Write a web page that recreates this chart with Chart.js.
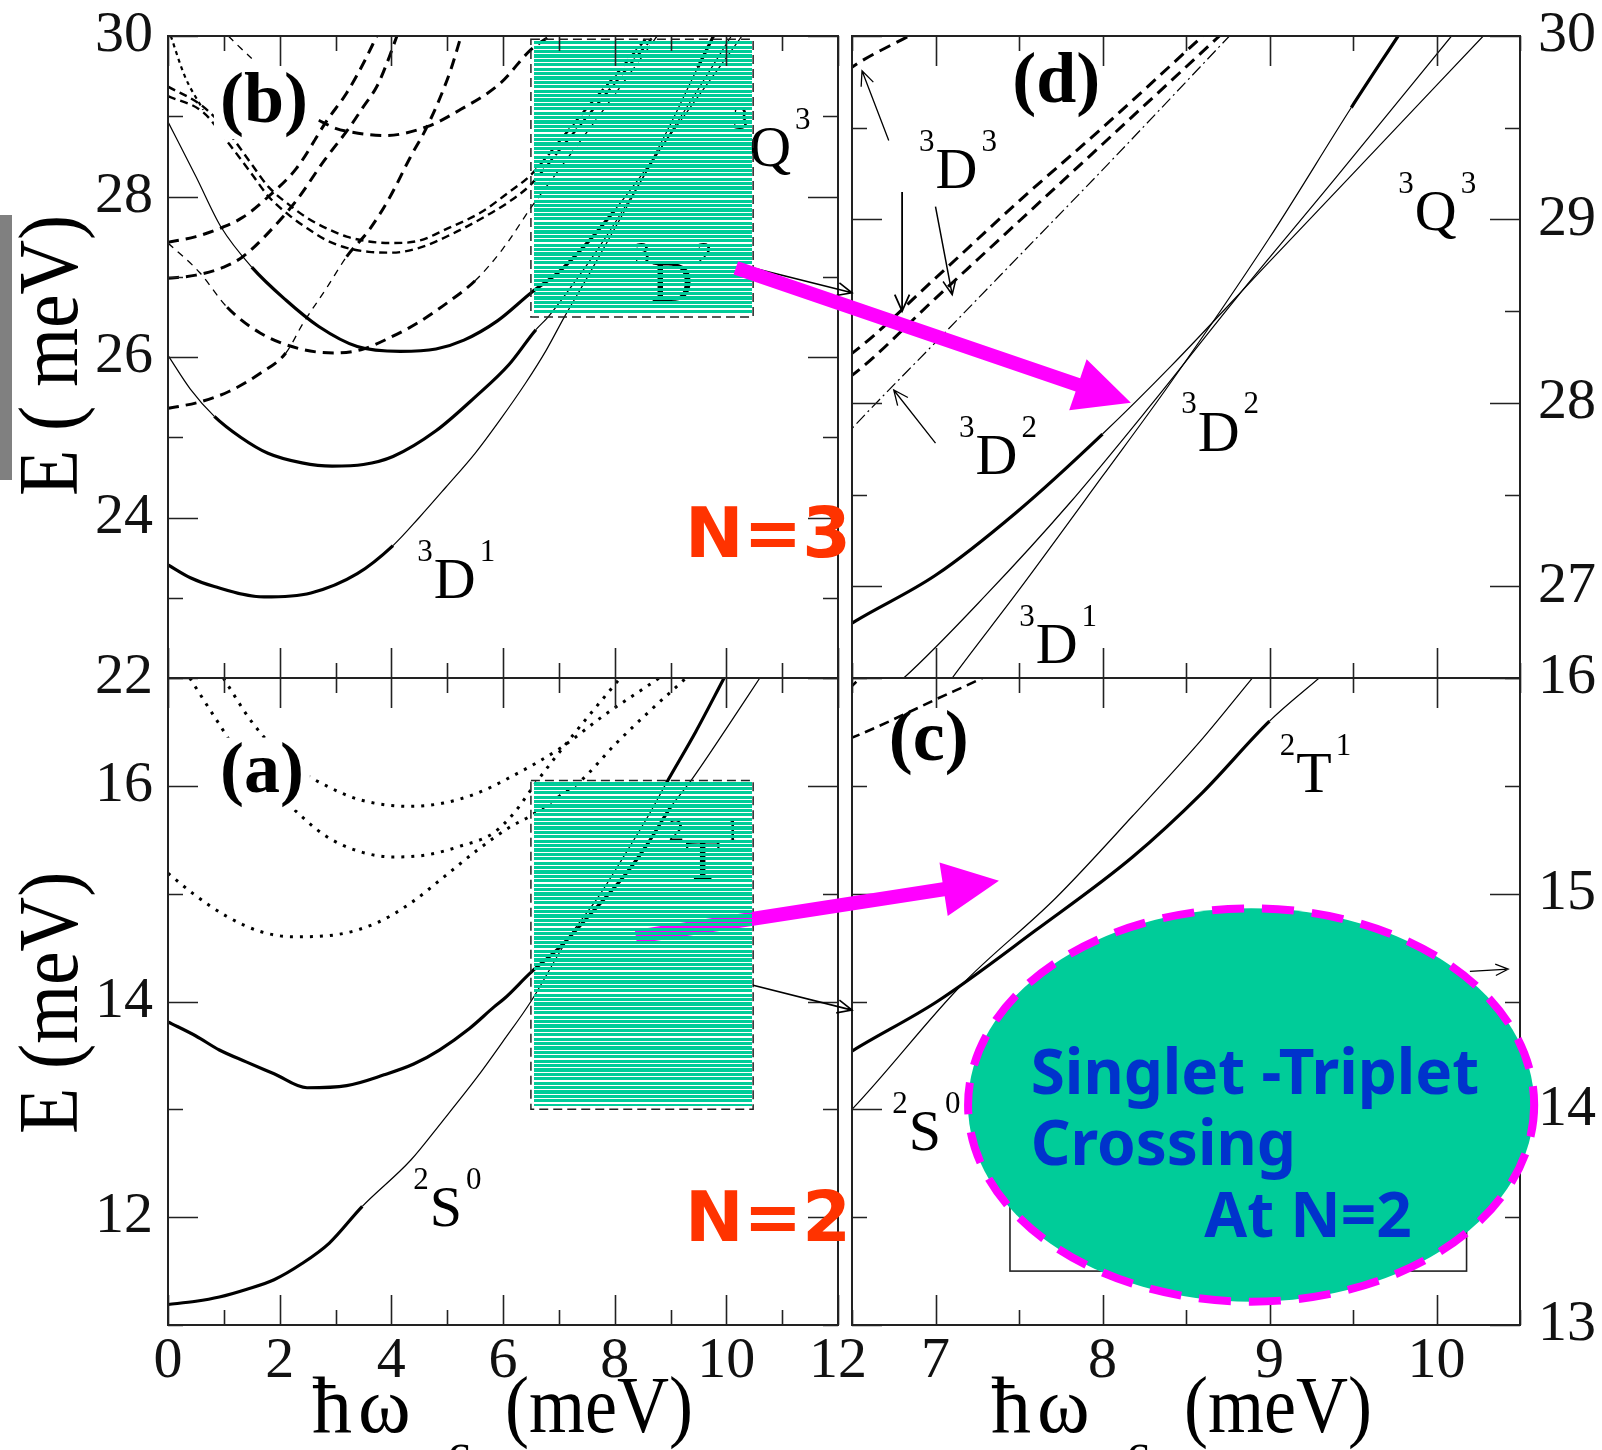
<!DOCTYPE html>
<html>
<head>
<meta charset="utf-8">
<script src="https://cdn.jsdelivr.net/npm/chart.js@4.4.1/dist/chart.umd.min.js"></script>
<style>
  html, body { margin: 0; padding: 0; background: #fff; }
  #page { position: relative; width: 1602px; height: 1450px; overflow: hidden; background: #fff; }
  #page canvas { position: absolute; }
</style>
</head>
<body>
<div id="page">
  <canvas id="cvB" width="900" height="762" style="left:0px;top:-24px;width:900px;height:762px"></canvas>
  <canvas id="cvD" width="802" height="762" style="left:800px;top:-24px;width:802px;height:762px"></canvas>
  <canvas id="cvA" width="900" height="832" style="left:0px;top:618px;width:900px;height:832px"></canvas>
  <canvas id="cvC" width="802" height="832" style="left:800px;top:618px;width:802px;height:832px"></canvas>
  <canvas id="cvO" width="1602" height="1450" style="left:0px;top:0px;width:1602px;height:1450px"></canvas>
</div>
<script>
// ---------------- N = 3 levels (panels b and d), energy E (meV) vs hbar*omega_c (meV) ----------------
const L1_hw = [0, 0.5, 0.95, 1.5, 2.11, 2.7, 3.39, 4.16, 4.8, 5.3, 5.9, 6.52, 7.0, 7.48, 8.0, 8.41, 9.0, 9.5, 10.28];
const L1_E  = [28.93, 28.25, 27.62, 27.12, 26.71, 26.38, 26.13, 26.07, 26.1, 26.21, 26.45, 26.81, 27.06, 27.4, 27.83, 28.2, 28.77, 29.25, 30.0];

const L2_hw = [0, 0.4, 0.83, 1.3, 1.79, 2.4, 2.94, 3.5, 4.03, 4.8, 5.5, 6.1, 6.59, 6.81, 7.3, 7.8, 8.3, 8.8, 9.4, 10.09];
const L2_E  = [26.02, 25.6, 25.26, 25.0, 24.8, 24.68, 24.64, 24.66, 24.76, 25.08, 25.5, 25.9, 26.34, 26.5, 26.95, 27.45, 28.0, 28.57, 29.23, 30.0];

// 3D1 branch
const L3_hw = [0, 0.4, 0.83, 1.72, 2.56, 3.39, 4.03, 4.5, 4.98, 5.5, 5.95, 6.4, 6.77, 7.1, 7.5, 8.0, 8.4, 9.0, 9.49, 9.77];
const L3_E  = [23.41, 23.25, 23.14, 23.01, 23.06, 23.3, 23.65, 24.0, 24.38, 24.8, 25.22, 25.67, 26.08, 26.5, 26.98, 27.6, 28.1, 28.9, 29.61, 30.0];

// close pair of dashed levels (3D3)
const DD1_hw = [0, 0.63, 1.1, 1.5, 1.8, 2.2, 2.5, 2.85, 3.2, 3.6, 4.0, 4.5, 5.0, 5.6, 6.1, 6.5, 7.0, 7.5, 8.0, 8.6];
const DD1_E  = [29.37, 29.12, 28.78, 28.4, 28.12, 27.88, 27.73, 27.6, 27.5, 27.44, 27.42, 27.45, 27.6, 27.8, 28.05, 28.27, 28.68, 29.1, 29.5, 30.0];
const DD2_hw = [0, 0.63, 1.1, 1.5, 1.8, 2.2, 2.5, 2.85, 3.2, 3.6, 4.0, 4.5, 5.05, 5.6, 6.1, 6.5, 7.0, 7.5, 8.0, 8.7];
const DD2_E  = [29.25, 29.05, 28.65, 28.28, 28.0, 27.75, 27.6, 27.45, 27.36, 27.31, 27.3, 27.36, 27.52, 27.72, 27.93, 28.15, 28.57, 28.99, 29.41, 30.0];

const P3_hw = [2.7, 3.0, 3.3, 3.9, 4.64, 5.23, 5.95, 6.5, 6.84];
const P3_E  = [28.95, 28.85, 28.8, 28.76, 28.87, 29.08, 29.41, 29.83, 30.0];

const P4_hw = [0, 0.57, 1.06, 1.65, 2.37, 3.0, 3.5, 4.0, 4.46, 5.05, 5.5, 6.0, 6.5, 7.0, 7.5, 8.0, 8.76];
const P4_E  = [27.42, 27.05, 26.62, 26.3, 26.1, 26.05, 26.1, 26.25, 26.42, 26.7, 26.95, 27.35, 27.86, 28.33, 28.8, 29.27, 30.0];

const P5_hw = [0, 0.57, 1.09, 1.66, 2.11, 2.42, 2.85, 3.2, 3.62, 3.98, 4.34, 4.64, 5.05, 5.25];
const P5_E  = [25.36, 25.44, 25.57, 25.8, 26.05, 26.42, 26.87, 27.25, 27.6, 28.0, 28.49, 28.87, 29.55, 30.0];

const Q1_hw = [0, 0.5, 0.99, 1.34, 1.8, 2.3, 2.85, 3.2, 3.5, 3.74];
const Q1_E  = [27.43, 27.5, 27.62, 27.74, 28.0, 28.35, 28.95, 29.29, 29.66, 30.0];

const Q2_hw = [0, 0.5, 1.0, 1.34, 1.8, 2.3, 2.8, 3.26, 3.5, 3.74, 3.92, 4.1];
const Q2_E  = [26.98, 27.02, 27.12, 27.25, 27.55, 27.95, 28.45, 28.87, 29.12, 29.37, 29.66, 30.0];

const X1_hw = [0.05, 0.3, 0.63];
const X1_E  = [30.0, 29.5, 29.08];
const X2_hw = [1.08, 1.3, 1.5];
const X2_E  = [30.0, 29.85, 29.72];

// ---------------- N = 2 levels (panels a and c) ----------------
// 2S0 branch
const S0_hw = [0, 0.5, 0.92, 1.4, 1.9, 2.4, 2.89, 3.48, 4.35, 4.9, 5.54, 6.0, 6.5, 7.16, 7.72, 8.18, 8.6, 8.93, 9.45, 9.96];
const S0_E  = [11.19, 11.22, 11.26, 11.33, 11.42, 11.57, 11.76, 12.1, 12.53, 12.88, 13.3, 13.63, 14.0, 14.58, 14.98, 15.36, 15.72, 16.03, 16.5, 17.0];
// 2T1 branch
const S1_hw = [0, 0.5, 0.92, 1.4, 1.9, 2.49, 3.2, 3.87, 4.4, 4.86, 5.4, 5.84, 6.03, 6.5, 7.01, 7.6, 8.18, 8.6, 9.0, 9.37, 10.0, 10.6];
const S1_E  = [13.81, 13.68, 13.55, 13.44, 13.33, 13.2, 13.22, 13.32, 13.42, 13.55, 13.75, 13.95, 14.03, 14.27, 14.5, 14.83, 15.17, 15.47, 15.8, 16.05, 16.53, 17.0];

const Dot1_hw = [0, 0.45, 1.05, 1.65, 2.24, 3.02, 3.74, 4.34, 4.93, 5.53, 6.13, 6.49, 7.0, 7.4, 8.0, 8.6, 9.28];
const Dot1_E  = [15.19, 15.0, 14.79, 14.65, 14.6, 14.62, 14.73, 14.91, 15.15, 15.4, 15.62, 15.72, 15.9, 16.05, 16.38, 16.68, 17.0];
const Dot2_hw = [0.39, 0.87, 1.4, 2.13, 2.84, 3.44, 4.03, 4.64, 5.23, 5.82, 6.2, 6.62, 7.3, 8.1];
const Dot2_E  = [17.0, 16.61, 16.2, 15.84, 15.53, 15.39, 15.34, 15.36, 15.44, 15.56, 15.75, 16.05, 16.5, 17.0];
const Dot3_hw = [0.99, 1.52, 2.2, 2.84, 3.44, 4.34, 4.93, 5.53, 6.13, 7.03, 7.8, 8.8];
const Dot3_E  = [17.0, 16.58, 16.2, 16.0, 15.87, 15.81, 15.84, 15.93, 16.08, 16.35, 16.65, 17.0];

// ---------------- axis ranges / tick steps ----------------
const WIDE_HW = [0, 12];        // panels a, b
const ZOOM_HW = [6.5, 10.5];    // panels c, d
const E_N3 = [22, 30];
const E_N3_ZOOM = [26.5, 30];
const E_N2 = [11, 17];
const E_N2_ZOOM = [13, 16];
// zoom windows marked inside panels b and a
const BOX_N3 = { hw: [6.5, 10.48], E: [26.5, 29.96] };
const BOX_N2 = { hw: [6.5, 10.48], E: [13.0, 16.05] };

// ---------------- styling ----------------
const SERIF = '"Liberation Serif", "Times New Roman", serif';
const TEAL = 'rgb(0,204,153)';
const MAGENTA = '#ff00ff';
const THICK = 3.2, THIN = 1.2;

const mid = c => (c.p0.parsed.x + c.p1.parsed.x) / 2;
function curve(w, E, width, dash, segFn) {
  const ds = {
    data: w.map((x, i) => ({ x, y: E[i] })),
    borderColor: '#000', borderWidth: width, borderDash: dash || [],
    borderCapStyle: 'butt', pointRadius: 0, fill: false,
    cubicInterpolationMode: 'monotone', clip: 0
  };
  if (segFn) {
    ds.segment = {
      borderWidth: c => segFn(mid(c)).width,
      borderDash: c => segFn(mid(c)).dash || []
    };
  }
  return ds;
}
const solid = (w, E, thickAt) => curve(w, E, THICK, [], x => ({ width: thickAt(x) ? THICK : THIN }));

const thickL1 = x => x > 1.45 && x < 8.0;
const thickL2 = x => x > 0.8 && x < 6.6;
const thickL3 = x => x < 4.1 || x > 9.45;
const thickS0 = x => x < 3.5 || x > 8.9;
const thickS1 = x => x < 9.0;

const DASH = [11, 7], PAIR = [8, 5], THINDASH = [7, 6], DASHDOT = [12, 4, 2, 4], DOTS = [3, 7];

// ---------------- drawing helpers ----------------
function term(ctx, x, y, pre, main, post, size) {
  ctx.save();
  ctx.fillStyle = '#000';
  ctx.textBaseline = 'alphabetic';
  ctx.font = size + 'px ' + SERIF;
  ctx.textAlign = 'left';
  const w = ctx.measureText(main).width;
  ctx.fillText(main, x, y);
  ctx.font = Math.round(size * 0.54) + 'px ' + SERIF;
  ctx.textAlign = 'right';
  ctx.fillText(pre, x - 1, y - size * 0.64);
  ctx.textAlign = 'left';
  ctx.fillText(post, x + w + 4, y - size * 0.64);
  ctx.restore();
}
function tag(ctx, text, x, y, size, whiteBg) {
  ctx.save();
  ctx.font = 'bold ' + size + 'px ' + SERIF;
  ctx.textAlign = 'left'; ctx.textBaseline = 'alphabetic';
  if (whiteBg) {
    const w = ctx.measureText(text).width;
    ctx.fillStyle = '#fff';
    ctx.fillRect(x - 6, y - size * 0.76, w + 12, size * 1.0);
  }
  ctx.fillStyle = '#000';
  ctx.fillText(text, x, y);
  ctx.restore();
}
function stripes(ctx, x0, y0, x1, y1) {
  ctx.save();
  ctx.fillStyle = TEAL;
  const period = 4.4;
  for (let t = y0; t < y1; t += period) {
    const a = Math.round(t), b = Math.min(Math.round(t + period - 1.3), Math.round(y1));
    if (b > a) ctx.fillRect(Math.round(x0), a, Math.round(x1 - x0), b - a);
  }
  ctx.restore();
}
function boxRect(chart, box) {
  const { x, y } = chart.scales;
  const l = x.getPixelForValue(box.hw[0]), r = x.getPixelForValue(box.hw[1]);
  const t = y.getPixelForValue(box.E[1]), b = y.getPixelForValue(box.E[0]);
  return { l, r, t, b };
}
function stripedBox(chart, box) {
  const ctx = chart.ctx;
  const R = boxRect(chart, box);
  stripes(ctx, R.l + 3, R.t + 2, R.r - 1, R.b - 3);
  ctx.save();
  ctx.strokeStyle = '#222'; ctx.lineWidth = 1.5; ctx.setLineDash([9, 5]);
  ctx.strokeRect(R.l, R.t, R.r - R.l, R.b - R.t);
  ctx.restore();
}
function frameTicks(chart) {
  const { ctx, chartArea: a, scales: { x, y } } = chart;
  ctx.save();
  ctx.strokeStyle = '#222';
  ctx.lineWidth = 2;
  ctx.strokeRect(a.left, a.top, a.right - a.left, a.bottom - a.top);
  ctx.lineWidth = 1.6;
  ctx.beginPath();
  x.ticks.forEach(t => {
    const p = Math.round(x.getPixelForValue(t.value)) + 0.5;
    const L = t.label !== '' ? 30 : 15;
    ctx.moveTo(p, a.top); ctx.lineTo(p, a.top + L);
    ctx.moveTo(p, a.bottom); ctx.lineTo(p, a.bottom - L);
  });
  y.ticks.forEach(t => {
    const p = Math.round(y.getPixelForValue(t.value)) + 0.5;
    const L = t.label !== '' ? 30 : 15;
    ctx.moveTo(a.left, p); ctx.lineTo(a.left + L, p);
    ctx.moveTo(a.right, p); ctx.lineTo(a.right - L, p);
  });
  ctx.stroke();
  ctx.restore();
}
function thinArrow(ctx, p0, p1, head, lw) {
  const [x0, y0] = p0, [x1, y1] = p1;
  const ang = Math.atan2(y1 - y0, x1 - x0);
  ctx.save();
  ctx.strokeStyle = '#000'; ctx.lineWidth = lw || 1.4;
  ctx.beginPath();
  ctx.moveTo(x0, y0); ctx.lineTo(x1, y1);
  ctx.moveTo(x1 - head * Math.cos(ang - 0.42), y1 - head * Math.sin(ang - 0.42));
  ctx.lineTo(x1, y1);
  ctx.lineTo(x1 - head * Math.cos(ang + 0.42), y1 - head * Math.sin(ang + 0.42));
  ctx.stroke();
  ctx.restore();
}
function fatArrow(ctx, p0, p1, shaft, headLen, headHalf, color) {
  const [x0, y0] = p0, [x1, y1] = p1;
  const dx = x1 - x0, dy = y1 - y0, L = Math.hypot(dx, dy);
  const ux = dx / L, uy = dy / L, nx = -uy, ny = ux;
  const bx = x1 - ux * headLen, by = y1 - uy * headLen;
  ctx.save();
  ctx.fillStyle = color;
  ctx.beginPath();
  ctx.moveTo(x0 + nx * shaft / 2, y0 + ny * shaft / 2);
  ctx.lineTo(bx + nx * shaft / 2, by + ny * shaft / 2);
  ctx.lineTo(bx + nx * headHalf, by + ny * headHalf);
  ctx.lineTo(x1, y1);
  ctx.lineTo(bx - nx * headHalf, by - ny * headHalf);
  ctx.lineTo(bx - nx * shaft / 2, by - ny * shaft / 2);
  ctx.lineTo(x0 - nx * shaft / 2, y0 - ny * shaft / 2);
  ctx.closePath();
  ctx.fill();
  ctx.restore();
}
const px = (chart, x, y) => [chart.scales.x.getPixelForValue(x), chart.scales.y.getPixelForValue(y)];
const pagePx = (chart, x, y) => {
  const c = chart.canvas;
  return [c.offsetLeft + chart.scales.x.getPixelForValue(x), c.offsetTop + chart.scales.y.getPixelForValue(y)];
};

// ---------------- panel factory ----------------
const evenLabel = v => (Math.abs(v % 2) < 1e-9 ? String(v) : '');
const intLabel = v => (Math.abs(v - Math.round(v)) < 1e-9 ? String(v) : '');
const tickFont = { family: SERIF, size: 58 };

function panel(id, cfg) {
  const xScale = {
    type: 'linear', min: cfg.hw[0], max: cfg.hw[1], display: cfg.showX,
    grid: { display: false, drawTicks: false }, border: { display: false },
    ticks: { stepSize: cfg.xStep, autoSkip: false, maxRotation: 0, maxTicksLimit: 100,
             padding: 2, color: '#111', font: tickFont, callback: cfg.xLabel }
  };
  if (cfg.showX) xScale.afterFit = s => { s.height = 125; };
  const yScale = {
    type: 'linear', position: cfg.yPos, min: cfg.E[0], max: cfg.E[1],
    grid: { display: false, drawTicks: false }, border: { display: false },
    ticks: { stepSize: cfg.yStep, autoSkip: false, maxTicksLimit: 100,
             padding: cfg.yPos === 'left' ? 15 : 18, color: '#111', font: tickFont, callback: cfg.yLabel },
    afterFit: s => { s.width = cfg.yWidth; }
  };
  return new Chart(document.getElementById(id), {
    type: 'line',
    data: { datasets: cfg.datasets },
    options: {
      responsive: false, animation: false, devicePixelRatio: 1, events: [],
      layout: { padding: cfg.padding },
      plugins: { legend: { display: false }, tooltip: { enabled: false } },
      scales: { x: xScale, y: yScale }
    },
    plugins: [{ id: 'deco_' + id, afterDatasetsDraw: chart => cfg.deco(chart) }]
  });
}

// ---------------- panel (b): N = 3, full range ----------------
const chartB = panel('cvB', {
  hw: WIDE_HW, E: E_N3, xStep: 1, yStep: 1, xLabel: evenLabel, yLabel: evenLabel,
  showX: false, yPos: 'left', yWidth: 168,
  padding: { left: 0, top: 60, right: 62, bottom: 60 },
  datasets: [
    solid(L1_hw, L1_E, thickL1),
    solid(L2_hw, L2_E, thickL2),
    solid(L3_hw, L3_E, thickL3),
    curve(DD1_hw, DD1_E, 2.4, PAIR),
    curve(DD2_hw, DD2_E, 2.4, PAIR),
    curve(P3_hw, P3_E, 3, DASH),
    curve(P4_hw, P4_E, 3, DASH, x => (x < 1.0 || x > 5.3) ? { width: 1.3, dash: THINDASH } : { width: 3, dash: DASH }),
    curve(P5_hw, P5_E, 3, DASH, x => (x > 1.9 && x < 3.2) ? { width: 1.3, dash: THINDASH } : { width: 3, dash: DASH }),
    curve(Q1_hw, Q1_E, 3, DASH),
    curve(Q2_hw, Q2_E, 3, DASH),
    curve(X1_hw, X1_E, 2.2, [4, 4]),
    curve(X2_hw, X2_E, 1.3, THINDASH)
  ],
  deco: chart => {
    const ctx = chart.ctx;
    let p = px(chart, 4.76, 23.0); term(ctx, p[0], p[1], '3', 'D', '1', 58);
    p = px(chart, 8.65, 26.7); term(ctx, p[0], p[1], '3', 'D', '2', 58);
    p = px(chart, 10.41, 28.38); term(ctx, p[0], p[1], '3', 'Q', '3', 58);
    stripedBox(chart, BOX_N3);
    p = px(chart, 0.93, 28.93); tag(ctx, '(b)', p[0], p[1], 72, true);
    frameTicks(chart);
  }
});

// ---------------- panel (d): N = 3, zoomed ----------------
const chartD = panel('cvD', {
  hw: ZOOM_HW, E: E_N3_ZOOM, xStep: 0.5, yStep: 0.5, xLabel: intLabel, yLabel: intLabel,
  showX: false, yPos: 'right', yWidth: 82,
  padding: { left: 52, top: 60, right: 0, bottom: 60 },
  datasets: [
    solid(L1_hw, L1_E, thickL1),
    solid(L2_hw, L2_E, x => false),
    solid(L3_hw, L3_E, thickL3),
    curve(DD1_hw, DD1_E, 3, [12, 7]),
    curve(DD2_hw, DD2_E, 3, [12, 7]),
    curve(P3_hw, P3_E, 3, [12, 7]),
    curve(P4_hw, P4_E, 1.2, DASHDOT)
  ],
  deco: chart => {
    const ctx = chart.ctx;
    let p = px(chart, 7.46, 29.64); tag(ctx, '(d)', p[0], p[1], 72, false);
    p = px(chart, 7.0, 29.17); term(ctx, p[0], p[1], '3', 'D', '3', 58);
    p = px(chart, 7.24, 27.61); term(ctx, p[0], p[1], '3', 'D', '2', 58);
    p = px(chart, 8.57, 27.74); term(ctx, p[0], p[1], '3', 'D', '2', 58);
    p = px(chart, 9.87, 28.94); term(ctx, p[0], p[1], '3', 'Q', '3', 58);
    p = px(chart, 7.6, 26.58); term(ctx, p[0], p[1], '3', 'D', '1', 58);
    thinArrow(ctx, px(chart, 6.72, 29.43), px(chart, 6.56, 29.81), 16, 1.3);
    thinArrow(ctx, px(chart, 6.8, 29.15), px(chart, 6.8, 28.5), 18, 1.8);
    thinArrow(ctx, px(chart, 7.0, 29.07), px(chart, 7.1, 28.59), 16, 1.5);
    thinArrow(ctx, px(chart, 7.0, 27.78), px(chart, 6.75, 28.07), 16, 1.3);
    frameTicks(chart);
  }
});

// ---------------- panel (a): N = 2, full range ----------------
const chartA = panel('cvA', {
  hw: WIDE_HW, E: E_N2, xStep: 1, yStep: 1, xLabel: evenLabel, yLabel: evenLabel,
  showX: true, yPos: 'left', yWidth: 168,
  padding: { left: 0, top: 60, right: 62, bottom: 0 },
  datasets: [
    solid(S0_hw, S0_E, thickS0),
    solid(S1_hw, S1_E, thickS1),
    curve(Dot1_hw, Dot1_E, 3, DOTS),
    curve(Dot2_hw, Dot2_E, 3, DOTS),
    curve(Dot3_hw, Dot3_E, 3, DOTS)
  ],
  deco: chart => {
    const ctx = chart.ctx;
    let p = px(chart, 4.69, 11.92); term(ctx, p[0], p[1], '2', 'S', '0', 58);
    p = px(chart, 9.26, 15.14); term(ctx, p[0], p[1], '2', 'T', '1', 58);
    stripedBox(chart, BOX_N2);
    p = px(chart, 0.93, 15.94); tag(ctx, '(a)', p[0], p[1], 72, true);
    frameTicks(chart);
  }
});

// ---------------- panel (c): N = 2, zoomed ----------------
const chartC = panel('cvC', {
  hw: ZOOM_HW, E: E_N2_ZOOM, xStep: 0.5, yStep: 0.5, xLabel: intLabel, yLabel: intLabel,
  showX: true, yPos: 'right', yWidth: 82,
  padding: { left: 52, top: 60, right: 0, bottom: 0 },
  datasets: [
    solid(S0_hw, S0_E, x => x > 8.9),
    solid(S1_hw, S1_E, thickS1),
    curve(Dot1_hw, Dot1_E, 2.6, [10, 6]),
    curve(Dot2_hw, Dot2_E, 2.6, [10, 6]),
    curve(Dot3_hw, Dot3_E, 2.6, [10, 6])
  ],
  deco: chart => {
    const ctx = chart.ctx;
    let p = px(chart, 6.72, 15.62); tag(ctx, '(c)', p[0], p[1], 72, false);
    p = px(chart, 9.16, 15.47); term(ctx, p[0], p[1], '2', 'T', '1', 58);
    p = px(chart, 6.84, 13.81); term(ctx, p[0], p[1], '2', 'S', '0', 58);
    // inset frame partly hidden behind the note
    const a = px(chart, 7.446, 13.67), b = px(chart, 10.18, 13.25);
    ctx.save(); ctx.strokeStyle = '#222'; ctx.lineWidth = 1.6;
    ctx.strokeRect(a[0], a[1], b[0] - a[0], b[1] - a[1]); ctx.restore();
    thinArrow(ctx, px(chart, 10.2, 14.64), px(chart, 10.43, 14.65), 14, 1.2);
    frameTicks(chart);
  }
});

// ---------------- overlay: titles, connecting arrows, notes ----------------
(function overlay() {
  const ctx = document.getElementById('cvO').getContext('2d');
  ctx.textBaseline = 'alphabetic';

  // grey side bar
  ctx.fillStyle = 'rgb(128,128,128)';
  ctx.fillRect(0, 215, 12, 265);

  // rotated energy titles
  function yTitle(text, xBase, yStart) {
    ctx.save();
    ctx.translate(xBase, yStart); ctx.rotate(-Math.PI / 2); ctx.scale(0.9, 1);
    ctx.font = '84px ' + SERIF; ctx.fillStyle = '#000'; ctx.textAlign = 'left';
    ctx.fillText(text, 0, 0);
    ctx.restore();
  }
  yTitle('E ( meV)', 77, 496);
  yTitle('E (meV)', 77, 1134);

  // field titles: hbar omega_c (meV)
  function xTitle(x0) {
    ctx.save();
    ctx.fillStyle = '#000'; ctx.textAlign = 'left';
    ctx.font = '80px ' + SERIF;
    ctx.fillText('ħ', x0, 1432);
    ctx.fillText('ω', x0 + 46, 1432);
    ctx.font = '50px ' + SERIF;
    ctx.fillText('c', x0 + 136, 1468);
    ctx.translate(x0 + 193, 1432); ctx.scale(0.9, 1);
    ctx.font = '80px ' + SERIF;
    ctx.fillText('(meV)', 0, 0);
    ctx.restore();
  }
  xTitle(312);
  xTitle(991);

  // thin arrows from the zoom windows to the zoomed panels
  thinArrow(ctx, pagePx(chartB, 10.48, 27.11), pagePx(chartD, 6.5, 28.6), 16, 1.6);
  thinArrow(ctx, pagePx(chartA, 10.48, 14.15), pagePx(chartC, 6.5, 14.46), 16, 1.6);

  // magenta arrow N = 2 (its tail lies under the striped window)
  fatArrow(ctx, pagePx(chartA, 8.38, 14.6), pagePx(chartC, 7.38, 15.06), 14, 56, 27, MAGENTA);
  const R = boxRect(chartA, BOX_N2);
  const offA = chartA.canvas;
  stripes(ctx, offA.offsetLeft + R.l + 3, offA.offsetTop + R.t + 2, offA.offsetLeft + R.r - 1, offA.offsetTop + R.b - 3);

  // magenta arrow N = 3
  fatArrow(ctx, pagePx(chartB, 10.17, 27.11), pagePx(chartD, 8.17, 28.0), 14, 56, 27, MAGENTA);

  // shell labels
  ctx.save();
  ctx.fillStyle = '#ff3300';
  ctx.font = 'bold 70px "DejaVu Sans", sans-serif';
  ctx.textAlign = 'left';
  let p = pagePx(chartB, 9.26, 23.51); ctx.fillText('N=3', p[0], p[1]);
  p = pagePx(chartA, 9.26, 11.78); ctx.fillText('N=2', p[0], p[1]);
  ctx.restore();

  // note ellipse
  const c = pagePx(chartC, 8.89, 14.02);
  const ex = pagePx(chartC, 8.89 + 1.695, 14.02);
  const ey = pagePx(chartC, 8.89, 14.02 + 0.912);
  const rx = ex[0] - c[0], ry = c[1] - ey[1];
  ctx.save();
  ctx.beginPath();
  ctx.ellipse(c[0], c[1], rx, ry, 0, 0, Math.PI * 2);
  ctx.fillStyle = TEAL; ctx.fill();
  ctx.strokeStyle = MAGENTA; ctx.lineWidth = 8; ctx.setLineDash([32, 18]);
  ctx.stroke();
  ctx.restore();

  ctx.save();
  ctx.fillStyle = '#0033cc';
  ctx.font = 'bold 62px "Noto Sans", "DejaVu Sans", sans-serif';
  ctx.textAlign = 'left';
  p = pagePx(chartC, 7.57, 14.07); ctx.fillText('Singlet -Triplet', p[0], p[1]);
  p = pagePx(chartC, 7.57, 13.74); ctx.fillText('Crossing', p[0], p[1]);
  p = pagePx(chartC, 8.61, 13.41); ctx.fillText('At N=2', p[0], p[1]);
  ctx.restore();
})();
</script>
</body>
</html>
